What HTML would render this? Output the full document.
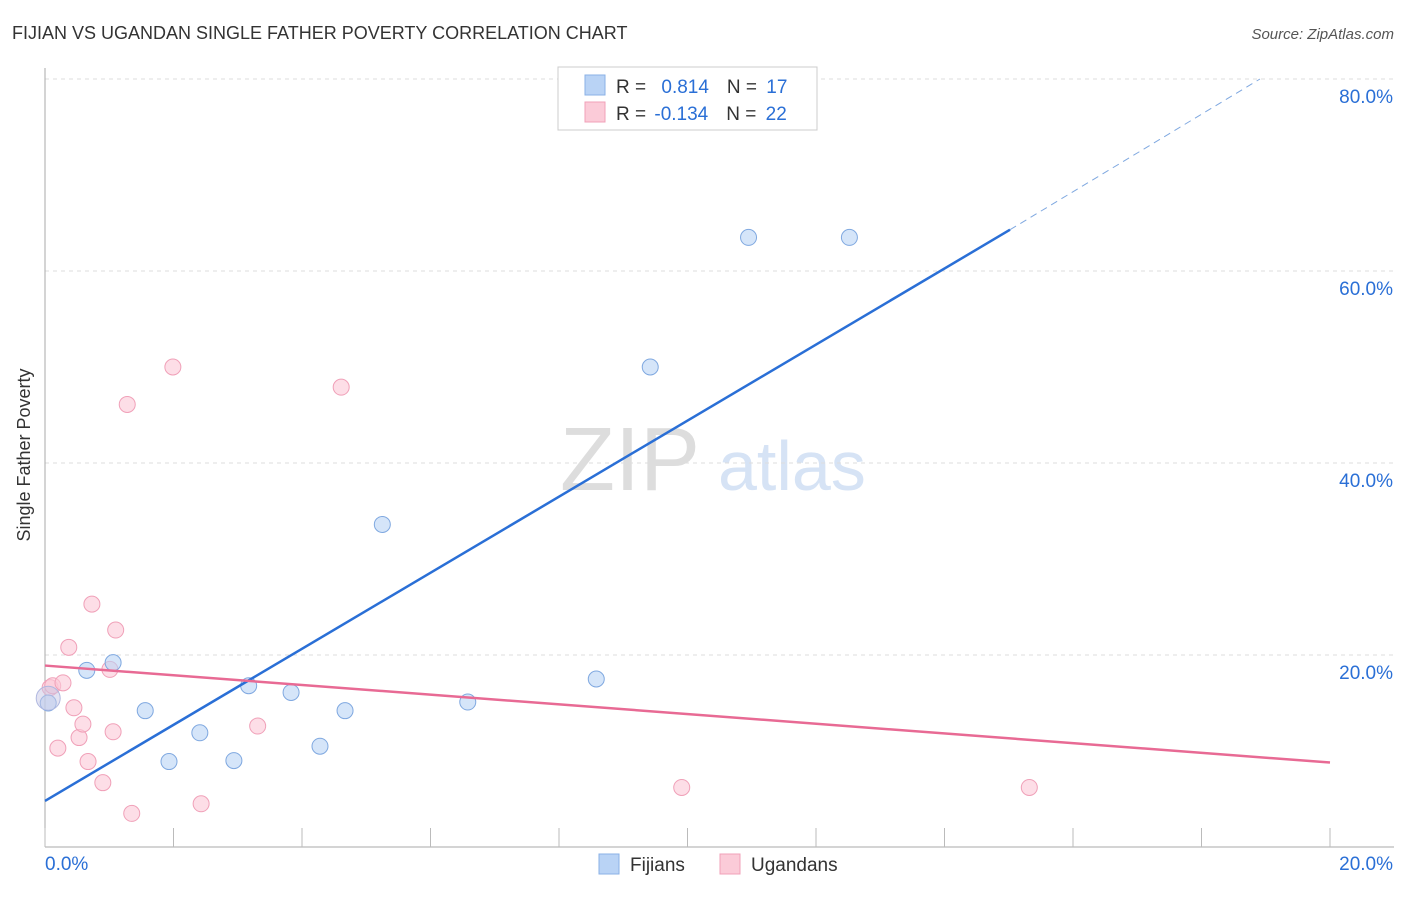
<!DOCTYPE html>
<html><head><meta charset="utf-8"><style>
body{margin:0;background:#fff;font-family:"Liberation Sans",sans-serif}
svg text{font-family:"Liberation Sans",sans-serif}
</style></head><body>
<svg id="c" width="1406" height="892">
<text x="12" y="39" font-size="18" fill="#333">FIJIAN VS UGANDAN SINGLE FATHER POVERTY CORRELATION CHART</text>
<text x="1394" y="39" font-size="15" fill="#555" font-style="italic" text-anchor="end">Source: ZipAtlas.com</text>
<text x="30" y="455" font-size="18" fill="#333" transform="rotate(-90 30 455)" text-anchor="middle">Single Father Poverty</text>
<text x="560" y="490" font-size="90" fill="#ddd" font-family="Liberation Serif">ZIP</text>
<text x="718" y="490" font-size="70" fill="#d6e3f5">atlas</text>
<g id="grid"></g><g id="marks"></g>
<g>
<rect x="558" y="67" width="259" height="63" fill="#fff" stroke="#ccc"/>
<rect x="585" y="75" width="20" height="20" fill="#b9d3f5" stroke="#8ab0e6"/>
<rect x="585" y="102" width="20" height="20" fill="#fbcbd8" stroke="#f0a0b8"/>
<text x="616" y="93" font-size="19" fill="#333">R = <tspan fill="#2a6fd6" dx="10">0.814</tspan><tspan fill="#333" dx="18">N = </tspan><tspan fill="#2a6fd6" dx="4">17</tspan></text>
<text x="616" y="120" font-size="19" fill="#333">R = <tspan fill="#2a6fd6" dx="3">-0.134</tspan><tspan fill="#333" dx="18">N = </tspan><tspan fill="#2a6fd6" dx="4">22</tspan></text>
</g>
<g>
<rect x="599" y="854" width="20" height="20" fill="#b9d3f5" stroke="#8ab0e6"/>
<text x="630" y="871" font-size="19" fill="#333">Fijians</text>
<rect x="720" y="854" width="20" height="20" fill="#fbcbd8" stroke="#f0a0b8"/>
<text x="751" y="871" font-size="19" fill="#333">Ugandans</text>
</g>
</svg>
<script>
const fijX=[0.05,0.65,1.06,1.56,1.93,2.41,2.94,3.17,3.83,4.28,4.67,5.25,6.58,8.58,9.42,10.95,12.52];
const fijY=[15.0,18.4,19.2,14.2,8.9,11.9,9.0,16.8,16.1,10.5,14.2,33.6,15.1,17.5,50.0,63.5,63.5];
const ugX=[0.08,0.12,0.2,0.28,0.37,0.45,0.53,0.59,0.67,0.73,0.9,1.01,1.06,1.1,1.28,1.35,1.99,2.43,3.31,4.61,9.91,15.32];
const ugY=[16.6,16.8,10.3,17.1,20.8,14.5,11.4,12.8,8.9,25.3,6.7,18.5,12.0,22.6,46.1,3.5,50.0,4.5,12.6,47.9,6.2,6.2];
const yTicks=[20,40,60,80];
const fijLine=[[0,4.8],[15.02,64.3],[18.91,80]];
const ugLine=[[0,18.9],[20,8.8]];
const X=v=>45+v*64.25, Y=v=>847-v*9.6;
const NS="http://www.w3.org/2000/svg";
const g=document.getElementById('grid'), m=document.getElementById('marks');
function el(t,a,p){const e=document.createElementNS(NS,t);for(const k in a)e.setAttribute(k,a[k]);p.appendChild(e);return e;}
yTicks.forEach(t=>{
 const l=el('line',{x1:45,x2:1394,y1:Y(t),y2:Y(t),stroke:'#ddd','stroke-dasharray':'4,4'},g);
 
 
 const tx=el('text',{x:1393,y:Y(t)+24,'font-size':19,fill:'#2a6fd6','text-anchor':'end'},g);
 tx.textContent=t.toFixed(1)+'%';
 
 
});
const ax=el('line',{x1:45,x2:1394,y1:847,y2:847,stroke:'#aaa'},g);


const ay=el('line',{x1:45,x2:45,y1:68,y2:847,stroke:'#aaa'},g);


for(let i=0;i<=10;i++){const t=el('line',{x1:X(i*2),x2:X(i*2),y1:828,y2:847,stroke:'#bbb'},g);
 
 }
[['0.0%',45,'start'],['20.0%',1393,'end']].forEach(a=>{const t=el('text',{x:a[1],y:870,'font-size':19,fill:'#2a6fd6','text-anchor':a[2]},g);t.textContent=a[0];
 
 });
ugX.forEach((v,i)=>{const c=el('circle',{cx:X(v),cy:Y(ugY[i]),r:8,fill:'rgba(251,200,215,0.6)',stroke:'#f0a0b8'},m);
 
 });
fijX.forEach((v,i)=>{const c=el('circle',{cx:X(v),cy:Y(fijY[i]),r:8,fill:'rgba(185,211,245,0.6)',stroke:'#7fa8e0'},m);
 
 });
const big=el('circle',{cx:X(0.05),cy:Y(15.5),r:12,fill:'rgba(200,200,230,0.5)',stroke:'#b0b8e0'},m);


const fl=el('line',{x1:X(fijLine[0][0]),y1:Y(fijLine[0][1]),x2:X(fijLine[1][0]),y2:Y(fijLine[1][1]),stroke:'#2a6fd6','stroke-width':2.5},m);


const fd=el('line',{x1:X(fijLine[1][0]),y1:Y(fijLine[1][1]),x2:X(fijLine[2][0]),y2:Y(fijLine[2][1]),stroke:'#7fa8e0','stroke-width':1,'stroke-dasharray':'7,5'},m);


const ul=el('line',{x1:X(ugLine[0][0]),y1:Y(ugLine[0][1]),x2:X(ugLine[1][0]),y2:Y(ugLine[1][1]),stroke:'#e86a94','stroke-width':2.5},m);


</script>
</body></html>
